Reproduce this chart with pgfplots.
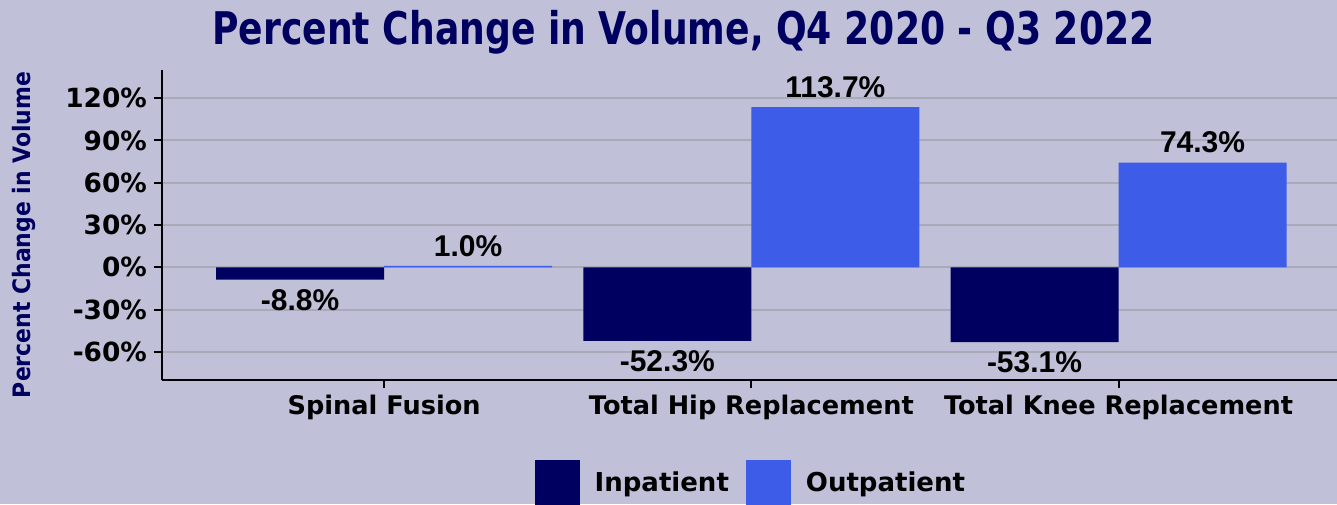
\documentclass[border=0pt]{standalone}
\usepackage{fontspec}
\setmainfont{Liberation Sans}
\newfontfamily\dv{DejaVu Sans}
\usepackage{pgfplots}
\pgfplotsset{compat=1.18}
\definecolor{bg}{HTML}{C0C0D8}
\definecolor{inpat}{HTML}{000060}
\definecolor{outpat}{HTML}{3D5CE8}
\definecolor{gridc}{HTML}{A9A9B9}
\definecolor{navy}{HTML}{000060}

\begin{document}
\begin{tikzpicture}
\path[use as bounding box] (-81pt,-62pt) rectangle (587.5pt,190pt);
\fill[bg] (-81pt,-62pt) rectangle (587.5pt,190pt);
\begin{axis}[
  at={(0,0)}, anchor=south west,
  scale only axis, width=587.5pt, height=155pt,
  xmin=-0.605, xmax=2.595, ymin=-80, ymax=140,
  axis lines=left, axis line style={-, line width=1.2pt, black},
  ybar=0pt, bar width=84pt,
  xtick={0,1,2},
  xticklabels={Spinal Fusion, Total Hip Replacement, Total Knee Replacement},
  ytick={-60,-30,0,30,60,90,120},
  yticklabels={-60\%,-30\%,0\%,30\%,60\%,90\%,120\%},
  tick align=outside, major tick length=4pt,
  tick style={black, line width=1pt},
  ymajorgrids, grid style={gridc, line width=1pt},
  ticklabel style={font=\dv\bfseries\fontsize{12.8}{15}\selectfont},
  yticklabel style={font=\dv\bfseries\fontsize{13.2}{15}\selectfont},
  nodes near coords={\pgfmathprintnumber[fixed,fixed zerofill,precision=1,assume math mode=true]{\pgfplotspointmeta}\%},
  every node near coord/.append style={font=\bfseries\fontsize{15}{18}\selectfont, black, inner sep=4.5pt},
  legend style={at={(0.502,-0.258)}, anchor=north, draw=none, fill=none,
    inner sep=0pt, legend columns=2,
    font=\dv\bfseries\fontsize{13}{15}\selectfont,
    /tikz/every odd column/.append style={column sep=5.5pt},
    /tikz/every even column/.append style={column sep=6.5pt}},
]
\addplot[fill=inpat, draw=none,
  legend image code/.code={\fill[inpat] (0pt,-11.25pt) rectangle (22.5pt,11.25pt);}]
  coordinates {(0,-8.8) (1,-52.3) (2,-53.1)};
\addplot[fill=outpat, draw=none,
  legend image code/.code={\fill[outpat] (0pt,-11.25pt) rectangle (22.5pt,11.25pt);}]
  coordinates {(0,1.0) (1,113.7) (2,74.3)};
\legend{Inpatient, Outpatient}
\end{axis}
\node[anchor=base, text=navy, inner sep=0pt] at (260.75pt,167.5pt)
  {\resizebox{471pt}{\height}{\dv\bfseries\fontsize{22.5}{26}\selectfont Percent Change in Volume, Q4 2020 - Q3 2022}};
\node[rotate=90, text=navy, inner sep=0pt] at (-69pt,72.5pt)
  {\resizebox{163pt}{\height}{\dv\bfseries\fontsize{12}{14}\selectfont Percent Change in Volume}};
\end{tikzpicture}
\end{document}
